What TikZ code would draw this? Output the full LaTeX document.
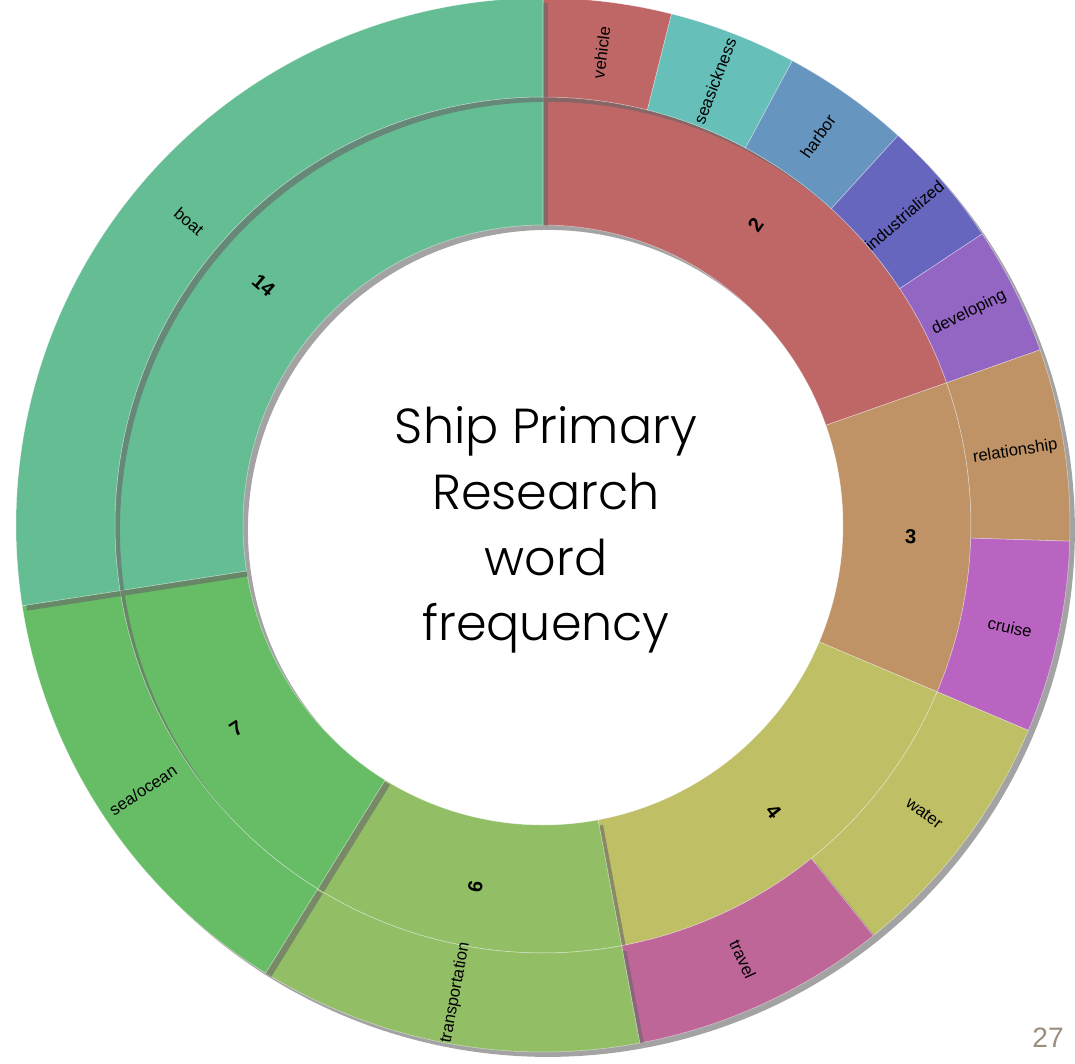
\documentclass[tikz,border=0pt]{standalone}
\usepackage{fontspec}
\setsansfont{Liberation Sans}
\IfFontExistsTF{Poppins Light}{\newfontfamily\titlefont{Poppins Light}}{\newfontfamily\titlefont{Poppins}}
\usetikzlibrary{shadows}
\definecolor{cboat}{RGB}{101,189,147}
\definecolor{csea}{RGB}{102,189,102}
\definecolor{ctrans}{RGB}{146,191,102}
\definecolor{cwater}{RGB}{191,191,102}
\definecolor{ctravel}{RGB}{191,102,153}
\definecolor{crel}{RGB}{191,147,102}
\definecolor{ccruise}{RGB}{186,100,193}
\definecolor{cvehicle}{RGB}{191,102,102}
\definecolor{csick}{RGB}{102,191,185}
\definecolor{charbor}{RGB}{102,150,191}
\definecolor{cindus}{RGB}{102,102,191}
\definecolor{cdevel}{RGB}{148,102,196}
\definecolor{cpage}{RGB}{156,142,126}
\begin{document}
\begin{tikzpicture}[x=0.02cm,y=0.02cm,
  sector/.style={draw=white,line width=0.3pt,draw opacity=0.5,
    drop shadow={shadow xshift=2.8pt,shadow yshift=-2.8pt,opacity=0.6,fill=black!60}},
  word/.style={font=\sffamily\fontsize{9.5}{11}\selectfont},
  count/.style={font=\sffamily\bfseries\fontsize{11.5}{13}\selectfont}]
\useasboundingbox (-543,-538) rectangle (532,525);
% inner ring
\fill[cvehicle,sector] (19.41:300) arc[start angle=19.41,end angle=90,radius=300] -- (90:428) arc[start angle=90,end angle=19.41,radius=428] -- cycle;
\fill[crel,sector] (-22.94:300) arc[start angle=-22.94,end angle=19.41,radius=300] -- (19.41:428) arc[start angle=19.41,end angle=-22.94,radius=428] -- cycle;
\fill[cwater,sector] (-79.41:300) arc[start angle=-79.41,end angle=-22.94,radius=300] -- (-22.94:428) arc[start angle=-22.94,end angle=-79.41,radius=428] -- cycle;
\fill[ctrans,sector] (238.24:300) arc[start angle=238.24,end angle=280.59,radius=300] -- (280.59:428) arc[start angle=280.59,end angle=238.24,radius=428] -- cycle;
\fill[csea,sector] (188.82:300) arc[start angle=188.82,end angle=238.24,radius=300] -- (238.24:428) arc[start angle=238.24,end angle=188.82,radius=428] -- cycle;
\fill[cboat,sector] (90:300) arc[start angle=90,end angle=188.82,radius=300] -- (188.82:428) arc[start angle=188.82,end angle=90,radius=428] -- cycle;
% outer ring
\fill[cvehicle,sector] (75.88:428) arc[start angle=75.88,end angle=90,radius=428] -- (90:527) arc[start angle=90,end angle=75.88,radius=527] -- cycle;
\fill[csick,sector] (61.76:428) arc[start angle=61.76,end angle=75.88,radius=428] -- (75.88:527) arc[start angle=75.88,end angle=61.76,radius=527] -- cycle;
\fill[charbor,sector] (47.65:428) arc[start angle=47.65,end angle=61.76,radius=428] -- (61.76:527) arc[start angle=61.76,end angle=47.65,radius=527] -- cycle;
\fill[cindus,sector] (33.53:428) arc[start angle=33.53,end angle=47.65,radius=428] -- (47.65:527) arc[start angle=47.65,end angle=33.53,radius=527] -- cycle;
\fill[cdevel,sector] (19.41:428) arc[start angle=19.41,end angle=33.53,radius=428] -- (33.53:527) arc[start angle=33.53,end angle=19.41,radius=527] -- cycle;
\fill[crel,sector] (-1.76:428) arc[start angle=-1.76,end angle=19.41,radius=428] -- (19.41:527) arc[start angle=19.41,end angle=-1.76,radius=527] -- cycle;
\fill[ccruise,sector] (-22.94:428) arc[start angle=-22.94,end angle=-1.76,radius=428] -- (-1.76:527) arc[start angle=-1.76,end angle=-22.94,radius=527] -- cycle;
\fill[cwater,sector] (-51.18:428) arc[start angle=-51.18,end angle=-22.94,radius=428] -- (-22.94:527) arc[start angle=-22.94,end angle=-51.18,radius=527] -- cycle;
\fill[ctravel,sector] (-79.41:428) arc[start angle=-79.41,end angle=-51.18,radius=428] -- (-51.18:527) arc[start angle=-51.18,end angle=-79.41,radius=527] -- cycle;
\fill[ctrans,sector] (238.24:428) arc[start angle=238.24,end angle=280.59,radius=428] -- (280.59:527) arc[start angle=280.59,end angle=238.24,radius=527] -- cycle;
\fill[csea,sector] (188.82:428) arc[start angle=188.82,end angle=238.24,radius=428] -- (238.24:527) arc[start angle=238.24,end angle=188.82,radius=527] -- cycle;
\fill[cboat,sector] (90:428) arc[start angle=90,end angle=188.82,radius=428] -- (188.82:527) arc[start angle=188.82,end angle=90,radius=527] -- cycle;
% counts
\node[count,rotate=54.71] (n2) at (54.71:368) {2};
\node[count,rotate=-1.76] (n3) at (-1.76:368) {3};
\node[count,rotate=-51.18] (n4) at (-51.18:368) {4};
\node[count,rotate=79.41] (n6) at (259.41:368) {6};
\node[count,rotate=33.53] (n7) at (213.53:368) {7};
\node[count,rotate=-40.59] (n14) at (139.41:368) {14};
% words
\node[word,rotate=82.94] (vehicle) at (82.94:476) {vehicle};
\node[word,rotate=68.82] (seasickness) at (68.82:476) {seasickness};
\node[word,rotate=54.71] (harbor) at (54.71:476) {harbor};
\node[word,rotate=40.59] (industrialized) at (40.59:476) {industrialized};
\node[word,rotate=26.47] (developing) at (26.47:476) {developing};
\node[word,rotate=8.82] (relationship) at (8.82:478) {relationship};
\node[word,rotate=-12.35] (cruise) at (-12.35:478) {cruise};
\node[word,rotate=-37.06] (water) at (-37.06:478) {water};
\node[word,rotate=-65.29] (travel) at (-65.29:478) {travel};
\node[word,rotate=79.41] (transportation) at (259.41:476) {transportation};
\node[word,rotate=33.53] (seaocean) at (213.53:480) {sea/ocean};
\node[word,rotate=-40.59] (boat) at (139.41:466) {boat};
% title and page
\node[align=center,font=\titlefont\fontsize{28}{37.4}\selectfont] (title) at (3,-5) {Ship Primary\\Research\\word\\frequency};
\node[font=\sffamily\fontsize{16}{16}\selectfont,text=cpage] (page) at (505,-513) {27};
\end{tikzpicture}
\end{document}
